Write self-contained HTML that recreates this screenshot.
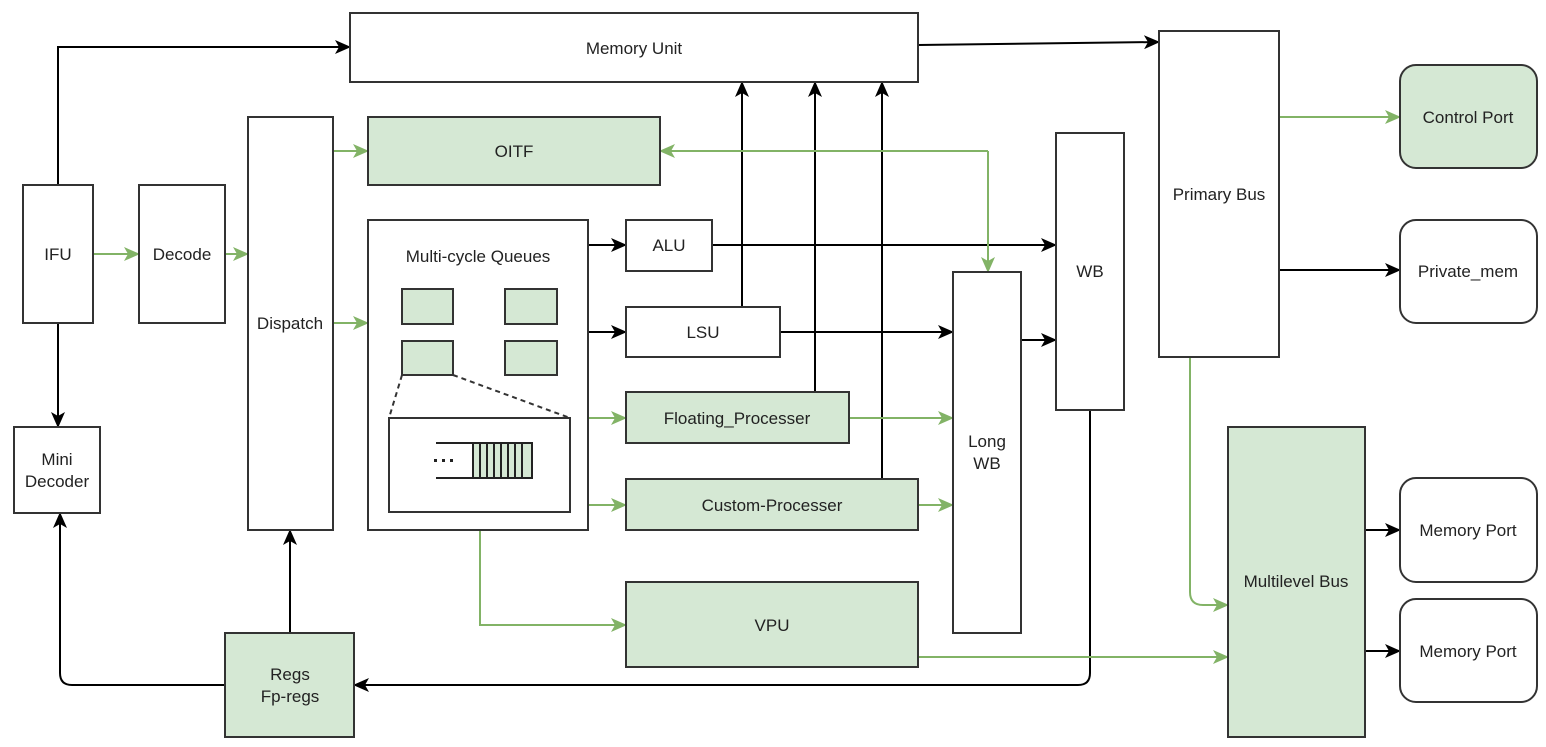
<!DOCTYPE html>
<html><head><meta charset="utf-8"><style>
html,body{margin:0;padding:0;background:#fff;}
svg{display:block;}
text{font-family:"Liberation Sans",Arial,sans-serif;font-size:17px;fill:#222;}
</style></head><body>
<svg width="1546" height="747" viewBox="0 0 1546 747" xmlns="http://www.w3.org/2000/svg">
<defs>
<marker id="ab" markerWidth="16" markerHeight="14" refX="15" refY="7" orient="auto" markerUnits="userSpaceOnUse"><path d="M0,0 L16,7 L0,14 L4,7 z" fill="#000"/></marker>
<marker id="ag" markerWidth="16" markerHeight="14" refX="15" refY="7" orient="auto" markerUnits="userSpaceOnUse"><path d="M0,0 L16,7 L0,14 L4,7 z" fill="#82b366"/></marker>
</defs>
<g fill="none" stroke-width="2">
<g stroke="#000" marker-end="url(#ab)">
<path d="M58,185 V47 H350"/>
<path d="M58,323 V427"/>
<path d="M225,685 H72 Q60,685 60,673 V513"/>
<path d="M290,633 V530"/>
<path d="M588,245 H626"/>
<path d="M588,332 H626"/>
<path d="M712,245 H1056"/>
<path d="M780,332 H953"/>
<path d="M742,307 V82"/>
<path d="M815,392 V82"/>
<path d="M882,479 V82"/>
<path d="M1021,340 H1056"/>
<path d="M1090,410 V673 Q1090,685 1078,685 H354"/>
<path d="M918,45 L1159,42"/>
<path d="M1279,270 H1400"/>
<path d="M1365,530 H1400"/>
<path d="M1365,651 H1400"/>
</g>
<g stroke="#82b366" marker-end="url(#ag)">
<path d="M93,254 H139"/>
<path d="M225,254 H248"/>
<path d="M333,151 H368"/>
<path d="M333,323 H368"/>
<path d="M588,418 H626"/>
<path d="M588,505 H626"/>
<path d="M480,530 V625 H626"/>
<path d="M849,418 H953"/>
<path d="M918,505 H953"/>
<path d="M988,151 V272"/>
<path d="M988,151 H660"/>
<path d="M918,657 H1228"/>
<path d="M1279,117 H1400"/>
<path d="M1190,357 V592 Q1190,605 1203,605 H1228"/>
</g>
</g>
<g stroke="#333" stroke-width="2">
<rect x="350" y="13" width="568" height="69" fill="#fff"/>
<rect x="23" y="185" width="70" height="138" fill="#fff"/>
<rect x="139" y="185" width="86" height="138" fill="#fff"/>
<rect x="14" y="427" width="86" height="86" fill="#fff"/>
<rect x="248" y="117" width="85" height="413" fill="#fff"/>
<rect x="368" y="117" width="292" height="68" fill="#d5e8d4"/>
<rect x="368" y="220" width="220" height="310" fill="#fff"/>
<rect x="402" y="289" width="51" height="35" fill="#d5e8d4"/>
<rect x="505" y="289" width="52" height="35" fill="#d5e8d4"/>
<rect x="402" y="341" width="51" height="34" fill="#d5e8d4"/>
<rect x="505" y="341" width="52" height="34" fill="#d5e8d4"/>
<rect x="389" y="418" width="181" height="94" fill="#fff"/>
<rect x="626" y="220" width="86" height="51" fill="#fff"/>
<rect x="626" y="307" width="154" height="50" fill="#fff"/>
<rect x="626" y="392" width="223" height="51" fill="#d5e8d4"/>
<rect x="626" y="479" width="292" height="51" fill="#d5e8d4"/>
<rect x="626" y="582" width="292" height="85" fill="#d5e8d4"/>
<rect x="953" y="272" width="68" height="361" fill="#fff"/>
<rect x="1056" y="133" width="68" height="277" fill="#fff"/>
<rect x="225" y="633" width="129" height="104" fill="#d5e8d4"/>
<rect x="1159" y="31" width="120" height="326" fill="#fff"/>
<rect x="1228" y="427" width="137" height="310" fill="#d5e8d4"/>
<rect x="1400" y="65" width="137" height="103" rx="16" fill="#d5e8d4"/>
<rect x="1400" y="220" width="137" height="103" rx="16" fill="#fff"/>
<rect x="1400" y="478" width="137" height="104" rx="16" fill="#fff"/>
<rect x="1400" y="599" width="137" height="103" rx="16" fill="#fff"/>
</g>
<g stroke="#333" stroke-width="2" stroke-dasharray="5,4">
<path d="M402,375 L389,418"/>
<path d="M453,375 L570,418"/>
</g>
<g stroke="#222" stroke-width="2">
<path d="M436,443 H473 M436,478 H473" fill="none"/>
<rect x="473" y="443" width="59" height="35" fill="#d5e8d4"/>
<path d="M480,443 V478 M487,443 V478 M494,443 V478 M501,443 V478 M508,443 V478 M515,443 V478 M522,443 V478" fill="none"/>
</g>
<g fill="#222"><rect x="434" y="459" width="3" height="3"/><rect x="442" y="459" width="3" height="3"/><rect x="450" y="459" width="3" height="3"/></g>
<g text-anchor="middle">
<text x="634" y="54">Memory Unit</text>
<text x="58" y="260">IFU</text>
<text x="182" y="260">Decode</text>
<text x="57" y="465">Mini</text>
<text x="57" y="487">Decoder</text>
<text x="290" y="329">Dispatch</text>
<text x="514" y="157">OITF</text>
<text x="478" y="262">Multi-cycle Queues</text>
<text x="669" y="251">ALU</text>
<text x="703" y="338">LSU</text>
<text x="737" y="424">Floating_Processer</text>
<text x="772" y="511">Custom-Processer</text>
<text x="772" y="631">VPU</text>
<text x="987" y="447">Long</text>
<text x="987" y="469">WB</text>
<text x="1090" y="277">WB</text>
<text x="290" y="680">Regs</text>
<text x="290" y="702">Fp-regs</text>
<text x="1219" y="200">Primary Bus</text>
<text x="1296" y="587">Multilevel Bus</text>
<text x="1468" y="123">Control Port</text>
<text x="1468" y="277">Private_mem</text>
<text x="1468" y="536">Memory Port</text>
<text x="1468" y="657">Memory Port</text>
</g>
</svg>
</body></html>
